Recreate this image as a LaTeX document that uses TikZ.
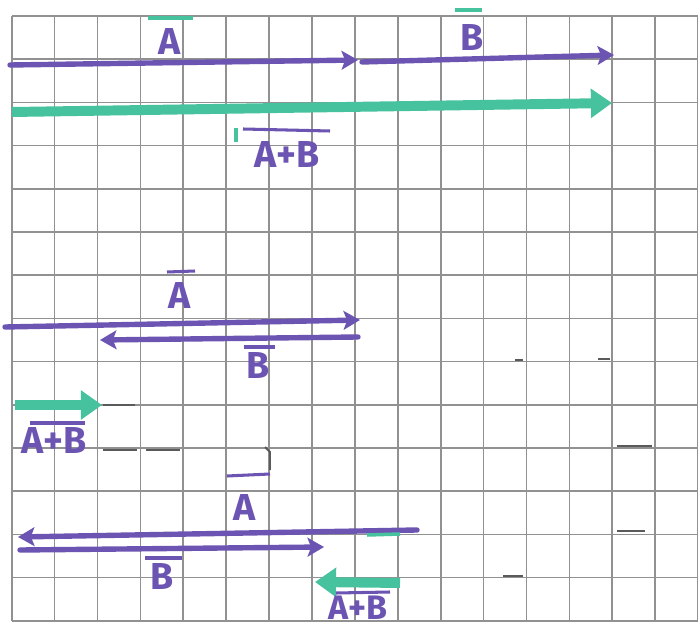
\documentclass[tikz,border=0pt]{standalone}
\usepackage{fontspec}
\setmainfont{Fira Sans}
\usetikzlibrary{arrows.meta}
\definecolor{pen}{RGB}{108,84,178}
\definecolor{mint}{RGB}{70,194,158}
\definecolor{gridc}{RGB}{145,145,145}
\definecolor{smudge}{RGB}{90,90,90}
\tikzset{
  gridline/.style={draw=gridc, line width=1.4pt},
  pvec/.style={draw=pen, line width=4.6pt, line cap=round, -{Stealth[length=14pt,width=16pt,inset=3pt]}},
  mvec/.style={draw=mint, line width=8.5pt, -{Triangle[length=18pt,width=24pt]}},
  lab/.style={text=pen, font=\fontsize{32}{34}\selectfont\bfseries, inner sep=1pt},
  pbar/.style={draw=pen, line width=2.6pt},
  mbar/.style={draw=mint, line width=3.2pt},
  smudgeline/.style={draw=smudge, line width=1.6pt}
}
\begin{document}
\begin{tikzpicture}[x=0.03cm,y=-0.03cm]
\useasboundingbox (0,0) rectangle (698,628);
\fill[white] (0,0) rectangle (698,628);
% grid
\foreach \i in {0,...,16} \draw[gridline] ({11.7+42.9*\i},16) -- ({11.7+42.9*\i},621);
\foreach \j in {0,...,14} \draw[gridline] (11.7,{16+43.2*\j}) -- (698,{16+43.2*\j});
% scanner marks
\draw[smudgeline] (103,405) -- (135,405);
\draw[smudgeline] (103,450) -- (137,450);
\draw[smudgeline] (146,450) -- (180,450);
\draw[smudgeline] (265,447) -- (270,452) -- (270,470);
\draw[smudgeline] (515,360) -- (523,360);
\draw[smudgeline] (598,359) -- (610,359);
\draw[smudgeline] (617,446) -- (652,446);
\draw[smudgeline] (617,531) -- (645,531);
\draw[smudgeline] (503,576) -- (523,576);
% row 1
\coordinate (a1s) at (10,65); \coordinate (a1e) at (358,60);
\coordinate (b1s) at (362,62); \coordinate (b1e) at (614,55);
\draw[pvec] (a1s) -- (a1e);
\draw[pvec] (b1s) -- (b1e);
\node[lab] (la1) at (170,42) {A};
\draw[mbar] (148,18) -- (193,18);
\node[lab] (lb1) at (472,38) {B};
\draw[mbar] (455,10) -- (482,10);
% row 2
\coordinate (s1s) at (12,112); \coordinate (s1e) at (612,103);
\draw[mvec] (s1s) -- (s1e);
\node[lab] (ls1) at (287,155) {A+B};
\draw[pbar] (243,129) -- (330,131);
\draw[mbar] (236,128) -- (236,142);
% row 3
\coordinate (a2s) at (5,327); \coordinate (a2e) at (360,320);
\coordinate (b2s) at (358,337); \coordinate (b2e) at (100,340);
\draw[pvec] (a2s) -- (a2e);
\draw[pvec] (b2s) -- (b2e);
\node[lab] (la2) at (180,296) {A};
\draw[pbar] (167,272) -- (195,271);
\node[lab] (lb2) at (258,366) {B};
\draw[pbar] (244,347) -- (275,347);
% row 4
\coordinate (s2s) at (15,405); \coordinate (s2e) at (102,405);
\draw[mvec] (s2s) -- (s2e);
\node[lab] (ls2) at (54,441) {A+B};
\draw[pbar] (30,423) -- (85,423);
% row 5
\coordinate (a3s) at (417,530); \coordinate (a3e) at (18,537);
\coordinate (b3s) at (20,550); \coordinate (b3e) at (324,547);
\draw[pvec] (a3s) -- (a3e);
\draw[mint, line width=3pt] (367,535) -- (400,534);
\draw[pvec] (b3s) -- (b3e);
\node[lab] (la3) at (245,508) {A};
\draw[pbar] (227,476) -- (270,474);
\node[lab] (lb3) at (162,577) {B};
\draw[pbar] (145,558) -- (182,558);
\coordinate (s3s) at (400,583); \coordinate (s3e) at (315,582);
\draw[mvec] (s3s) -- (s3e);
\node[lab, font=\fontsize{29}{31}\selectfont\bfseries] (ls3) at (358,608) {A+B};
\draw[pbar] (336,593) -- (390,592);
\end{tikzpicture}
\end{document}
